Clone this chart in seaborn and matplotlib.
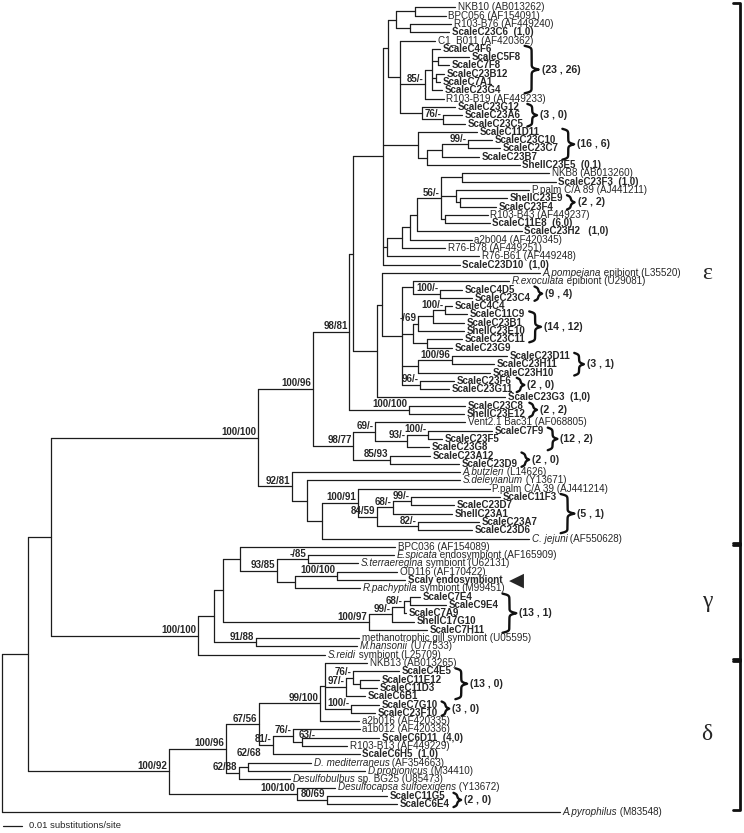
import numpy as np
import pandas as pd
import matplotlib
matplotlib.use("Agg")
import matplotlib.pyplot as plt
import seaborn as sns


### tree data: branch lengths in tree units (19 units = 0.01 substitutions/site)
SCALE_UNITS = 19
SCALE_TEXT = "0.01 substitutions/site"

# internal nodes: (id, parent, branch length, bootstrap NJ/MP)
NODES = [
    ("root", None, 0, ""),
    ("ing", "root", 26, ""),
    ("A", "ing", 23, ""),
    ("eps", "A", 207, "100/100"),
    ("e100_96", "eps", 55, "100/96"),
    ("e98_81", "e100_96", 36, "98/81"),
    ("e353", "e98_81", 4, ""),
    ("e383", "e353", 30, ""),
    ("Z", "e383", 5, ""),
    ("b", "Z", 8, ""),
    ("a", "b", 19, ""),
    ("c", "b", 14, ""),
    ("U", "Z", 12, ""),
    ("e85", "U", 25, "85/-"),
    ("e432", "e85", 7, ""),
    ("e438", "e432", 6, ""),
    ("e436", "e432", 4, ""),
    ("W", "U", 22, ""),
    ("e76", "W", 21, "76/-"),
    ("P", "e383", 35, ""),
    ("Q", "P", 9, ""),
    ("e442", "Q", 15, ""),
    ("e99", "e442", 26, "99/-"),
    ("e387", "e383", 4, ""),
    ("e402", "e387", 15, ""),
    ("e410", "e402", 8, ""),
    ("e417", "e410", 7, ""),
    ("e56", "e417", 24, "56/-"),
    ("e462", "e56", 21, ""),
    ("e456", "e56", 15, ""),
    ("e460", "e456", 4, ""),
    ("e445b", "e56", 4, ""),
    ("e377", "e353", 24, ""),
    ("e382", "e377", 5, ""),
    ("e402b", "e382", 20, ""),
    ("e413", "e402b", 11, ""),
    ("e440", "e413", 27, "100/-"),
    ("e413b", "e402b", 11, ""),
    ("e418", "e413b", 5, "-/69"),
    ("e433", "e418", 15, ""),
    ("e445", "e433", 12, "100/-"),
    ("e427", "e413b", 14, ""),
    ("e418c", "e402b", 16, ""),
    ("e452", "e418c", 34, "100/96"),
    ("e420", "e402b", 18, "96/-"),
    ("e409", "e98_81", 60, "100/100"),
    ("e98_77", "e100_96", 40, "98/77"),
    ("e69", "e98_77", 22, "69/-"),
    ("e93", "e69", 32, "93/-"),
    ("e100b", "e93", 21, "100/-"),
    ("e85_93", "e98_77", 37, "85/93"),
    ("e92_81", "eps", 34, "92/81"),
    ("e307", "e92_81", 15, ""),
    ("e322", "e307", 15, ""),
    ("e100_91", "e322", 36, "100/91"),
    ("e84_59", "e100_91", 19, "84/59"),
    ("e68", "e84_59", 16, "68/-"),
    ("e99b", "e68", 18, "99/-"),
    ("e82", "e84_59", 41, "82/-"),
    ("g", "A", 147, "100/100"),
    ("g214", "g", 16, ""),
    ("g223", "g214", 9, ""),
    ("g240", "g223", 17, ""),
    ("g277", "g240", 37, "93/85"),
    ("g308", "g277", 31, "-/85"),
    ("g295", "g277", 18, ""),
    ("g337", "g295", 42, "100/100"),
    ("g369", "g223", 146, "100/97"),
    ("g392", "g369", 23, "99/-"),
    ("g404", "g392", 12, "68/-"),
    ("g410", "g404", 6, ""),
    ("g256", "g214", 42, "91/88"),
    ("d", "ing", 141, "100/92"),
    ("d226", "d", 57, "100/96"),
    ("d259", "d226", 33, "67/56"),
    ("d320", "d259", 61, "99/100"),
    ("d325", "d320", 5, ""),
    ("d346", "d325", 21, "97/-"),
    ("d353", "d346", 7, "76/-"),
    ("d360", "d353", 7, ""),
    ("d351", "d325", 26, "100/-"),
    ("d273", "d259", 14, "81/-"),
    ("d293", "d273", 20, "76/-"),
    ("d302", "d293", 9, "63/-"),
    ("d239", "d226", 13, "62/88"),
    ("d248", "d239", 9, "62/68"),
    ("d297", "d", 128, "100/100"),
    ("d327", "d297", 30, "80/69"),
]

# leaves top to bottom: (label, parent, branch length, style) b=bold n=normal i=italic|normal
LEAVES = [
    ("NKB10 (AB013262)", "a", 40, "n"),
    ("BPC056 (AF154091)", "a", 31, "n"),
    ("R103-B76 (AF449240)", "c", 41, "n"),
    ("ScaleC23C6  (1,0)", "c", 39, "b"),
    ("C1_B011 (AF420362)", "U", 35, "n"),
    ("ScaleC4F6", "e432", 8, "b"),
    ("ScaleC5F8", "e438", 31, "b"),
    ("ScaleC7F8", "e438", 11, "b"),
    ("ScaleC23B12", "e436", 8, "b"),
    ("ScaleC7A1", "e436", 4, "b"),
    ("ScaleC23G4", "e432", 10, "b"),
    ("R103-B19 (AF449233)", "e85", 19, "n"),
    ("ScaleC23G12", "W", 33, "b"),
    ("ScaleC23A6", "e76", 19, "b"),
    ("ScaleC23C5", "e76", 22, "b"),
    ("ScaleC11D11", "P", 59, "b"),
    ("ScaleC23C10", "e99", 24, "b"),
    ("ScaleC23C7", "e99", 32, "b"),
    ("ScaleC23B7", "e442", 37, "b"),
    ("ShellC23E5  (0,1)", "Q", 93, "b"),
    ("NKB8 (AB013260)", "e462", 87, "n"),
    ("ScaleC23F3  (1,0)", "e462", 94, "b"),
    ("P.palm C/A 89 (AJ441211)", "e456", 73, "n"),
    ("ShellC23E9", "e460", 47, "b"),
    ("ScaleC23F4", "e460", 36, "b"),
    ("R103-B43 (AF449237)", "e445b", 43, "n"),
    ("ScaleC11E8  (6,0)", "e445b", 45, "b"),
    ("ScaleC23H2   (1,0)", "e417", 105, "b"),
    ("a2b004 (AF420345)", "e410", 62, "n"),
    ("R76-B78 (AF449251)", "e402", 43, "n"),
    ("R76-B61 (AF449248)", "e387", 92, "n"),
    ("ScaleC23D10  (1,0)", "e383", 77, "b"),
    ("A.pompejana| epibiont (L35520)", "e382", 158, "i"),
    ("R.exoculata| epibiont (U29081)", "e413", 96, "i"),
    ("ScaleC4D5", "e440", 22, "b"),
    ("ScaleC23C4", "e440", 32, "b"),
    ("ScaleC4C4", "e445", 7, "b"),
    ("ScaleC11C9", "e445", 22, "b"),
    ("ScaleC23B1", "e433", 31, "b"),
    ("ShellC23E10", "e418", 46, "b"),
    ("ScaleC23C11", "e427", 35, "b"),
    ("ScaleC23G9", "e427", 25, "b"),
    ("ScaleC23D11", "e452", 55, "b"),
    ("ScaleC23H11", "e452", 42, "b"),
    ("ScaleC23H10", "e418c", 72, "b"),
    ("ScaleC23F6", "e420", 34, "b"),
    ("ScaleC23G11", "e420", 29, "b"),
    ("ScaleC23G3  (1,0)", "e377", 128, "b"),
    ("ScaleC23C8", "e409", 56, "b"),
    ("ShellC23E12", "e409", 55, "b"),
    ("Vent2.1 Bac31 (AF068805)", "e69", 90, "n"),
    ("ScaleC7F9", "e100b", 64, "b"),
    ("ScaleC23F5", "e100b", 14, "b"),
    ("ScaleC23G8", "e93", 22, "b"),
    ("ScaleC23A12", "e85_93", 40, "b"),
    ("ScaleC23D9", "e85_93", 69, "b"),
    ("A.butzleri| (L14626)", "e92_81", 168, "i"),
    ("S.deleyianum| (Y13671)", "e307", 153, "i"),
    ("P.palm C/A 39 (AJ441214)", "e100_91", 132, "n"),
    ("ScaleC11F3", "e99b", 89, "b"),
    ("ScaleC23D7", "e99b", 43, "b"),
    ("ShellC23A1", "e68", 59, "b"),
    ("ScaleC23A7", "e82", 61, "b"),
    ("ScaleC23D6", "e82", 54, "b"),
    ("C. jejuni| (AF550628)", "e322", 207, "i"),
    ("BPC036 (AF154089)", "g240", 155, "n"),
    ("E.spicata| endosymbiont (AF165909)", "g308", 86, "i"),
    ("S.terraeregina| symbiont (U62131)", "g308", 50, "i"),
    ("OD116 (AF170422)", "g337", 60, "n"),
    ("Scaly endosymbiont", "g337", 68, "b"),
    ("R.pachyptila| symbiont (M99451)", "g295", 65, "i"),
    ("ScaleC7E4", "g410", 10, "b"),
    ("ScaleC9E4", "g410", 36, "b"),
    ("ScaleC7A9", "g404", 2, "b"),
    ("ShellC17G10", "g392", 22, "b"),
    ("ScaleC7H11", "g369", 58, "b"),
    ("methanotrophic gill symbiont (U05595)", "g256", 103, "n"),
    ("M.hansonii| (U77533)", "g256", 101, "i"),
    ("S.reidi| symbiont (L25709)", "g", 127, "i"),
    ("NKB13 (AB013265)", "d325", 42, "n"),
    ("ScaleC4E5", "d353", 46, "b"),
    ("ScaleC11E12", "d360", 19, "b"),
    ("ScaleC11D3", "d360", 17, "b"),
    ("ScaleC6B1", "d346", 19, "b"),
    ("ScaleC7G10", "d351", 28, "b"),
    ("ScaleC23F10", "d351", 24, "b"),
    ("a2b016 (AF420335)", "d320", 39, "n"),
    ("a1b012 (AF420336)", "d293", 67, "n"),
    ("ScaleC6D11  (4,0)", "d302", 77, "b"),
    ("R103-B13 (AF449229)", "d302", 45, "n"),
    ("ScaleC6H5  (1,0)", "d273", 87, "b"),
    ("D. mediterraneus| (AF354663)", "d248", 63, "i"),
    ("D.propionicus| (M34410)", "d248", 117, "i"),
    ("Desulfobulbus| sp. BG25 (U85473)", "d239", 51, "i"),
    ("Desulfocapsa sulfoexigens| (Y13672)", "d297", 38, "i"),
    ("ScaleC11G5", "d327", 60, "b"),
    ("ScaleC6E4", "d327", 70, "b"),
    ("A.pyrophilus| (M83548)", "root", 558, "i"),
]

# clone groups: (first leaf, last leaf, (clones scale, clones shell))
BRACES = [
    (6, 11, "(23 , 26)"), (13, 15, "(3 , 0)"), (16, 19, "(16 , 6)"),
    (24, 25, "(2 , 2)"), (35, 36, "(9 , 4)"), (38, 41, "(14 , 12)"),
    (43, 45, "(3 , 1)"), (46, 47, "(2 , 0)"), (49, 50, "(2 , 2)"),
    (52, 54, "(12 , 2)"), (55, 56, "(2 , 0)"), (60, 64, "(5 , 1)"),
    (72, 76, "(13 , 1)"), (81, 84, "(13 , 0)"), (85, 86, "(3 , 0)"),
    (96, 97, "(2 , 0)"),
]
CLADES = [("\u03b5", 1, 65), ("\u03b3", 66, 79), ("\u03b4", 80, 97)]
MARKED = "Scaly endosymbiont"


### layout
W_PX, H_PX = 744, 833
X0 = 2
Y0, DY = 7.3, 8.3
FS_LEAF = 7.0
LABEL_NUDGE = {"d248": (15, -8), "d302": (15, -1)}

sns.set_theme(style="white")
plt.rcParams["font.family"] = ["Liberation Sans", "DejaVu Sans"]

depth = {}
children = {}
support = {}
for nid, par, ln, sup in NODES:
    depth[nid] = 0 if par is None else depth[par] + ln
    support[nid] = sup
    children.setdefault(nid, [])
    if par is not None:
        children[par].append(nid)

ypos = {}
for i, (lab, par, ln, st) in enumerate(LEAVES):
    key = "L%d" % i
    depth[key] = depth[par] + ln
    children[par].append(key)
    ypos[key] = Y0 + i * DY


def node_y(n):
    if n in ypos:
        return ypos[n]
    ys = [node_y(c) for c in children[n]]
    ypos[n] = (min(ys) + max(ys)) / 2
    return ypos[n]


node_y("root")
xpos = {k: X0 + v for k, v in depth.items()}

# segments for the rectangular tree
rows = []
seg = 0
for n, kids in children.items():
    if not kids:
        continue
    ys = [ypos[c] for c in kids]
    rows += [(seg, xpos[n], min(ys)), (seg, xpos[n], max(ys))]
    seg += 1
    for c in kids:
        rows += [(seg, xpos[n], ypos[c]), (seg, xpos[c], ypos[c])]
        seg += 1
segs = pd.DataFrame(rows, columns=["seg", "x", "y"])

fig = plt.figure(figsize=(W_PX / 100, H_PX / 100), dpi=100)
ax = fig.add_axes([0, 0, 1, 1])
sns.lineplot(data=segs, x="x", y="y", units="seg", estimator=None, sort=False,
             color="#1c1c1c", linewidth=0.9, ax=ax, legend=False)
ax.set_xlim(0, W_PX)
ax.set_ylim(H_PX, 0)
ax.axis("off")

# leaf labels
leaf_art = []
for i, (lab, par, ln, st) in enumerate(LEAVES):
    key = "L%d" % i
    x, y = xpos[key] + 2.5, ypos[key]
    if st == "i":
        head, tail = lab.split("|")
        t1 = ax.text(x, y, head, fontsize=FS_LEAF + 0.1, style="italic", va="center")
        t2 = ax.annotate(tail, xy=(1, 0), xycoords=t1, fontsize=FS_LEAF + 0.1,
                         va="bottom", ha="left")
        leaf_art.append([t1, t2])
    else:
        t1 = ax.text(x, y, lab, fontsize=FS_LEAF if st == "b" else FS_LEAF + 0.1,
                     fontweight="bold" if st == "b" else "normal", va="center")
        leaf_art.append([t1])
        if lab == MARKED:
            ax.annotate("\u25c0", xy=(1, 0.5), xycoords=t1, xytext=(5, 0),
                        textcoords="offset points", va="center", ha="left",
                        fontsize=14, family="DejaVu Sans")

# bootstrap values
for n, sup in support.items():
    if sup:
        dx, dy = LABEL_NUDGE.get(n, (0, 0))
        ax.text(xpos[n] - 1.5 + dx, ypos[n] - 2.5 + dy, sup, ha="right", va="baseline",
                fontsize=7.0, fontweight="bold")

# braces after the labels are laid out
fig.canvas.draw()
rend = fig.canvas.get_renderer()
inv = ax.transData.inverted()


def brace(x0, ya, yb, w, beta=1.2):
    half = (yb - ya) / 2
    yy = np.linspace(0, half, 80)
    xh = 1 / (1 + np.exp(-beta * (yy - yy[0]))) + 1 / (1 + np.exp(-beta * (yy - yy[-1]))) - 0.5
    xs = np.concatenate([xh, xh[-2::-1]])
    ys = np.concatenate([ya + yy, yb - yy[-2::-1]])
    return x0 + w * xs, ys


for first, last, txt in BRACES:
    right = 0
    for k in range(first - 1, last):
        for art in leaf_art[k]:
            bb = art.get_window_extent(rend)
            right = max(right, inv.transform((bb.x1, bb.y0))[0])
    ya, yb = Y0 + (first - 1) * DY - 3, Y0 + (last - 1) * DY + 3
    w = min(14, 4 + 0.25 * (yb - ya))
    bx, by = brace(right + 4, ya, yb, w)
    ax.plot(bx, by, color="#111111", lw=1.7, solid_capstyle="round")
    ax.text(right + 4 + w + 3, (ya + yb) / 2, txt, fontsize=7.6, fontweight="bold", va="center")

# clade brackets
for letter, first, last in CLADES:
    ya, yb = Y0 + (first - 1) * DY - 4, Y0 + (last - 1) * DY + 6
    ax.plot([733, 740, 740, 733], [ya, ya, yb, yb], color="#111111", lw=2)
    ax.text(707, (ya + yb) / 2, letter, fontsize=17, family="Liberation Serif",
            ha="center", va="center")

# scale bar
ax.plot([X0 + 1, X0 + 1 + SCALE_UNITS], [826, 826], color="#1c1c1c", lw=0.9)
ax.text(X0 + SCALE_UNITS + 8, 826, SCALE_TEXT, fontsize=6.8, va="center")

fig.savefig("out.png", dpi=100)
